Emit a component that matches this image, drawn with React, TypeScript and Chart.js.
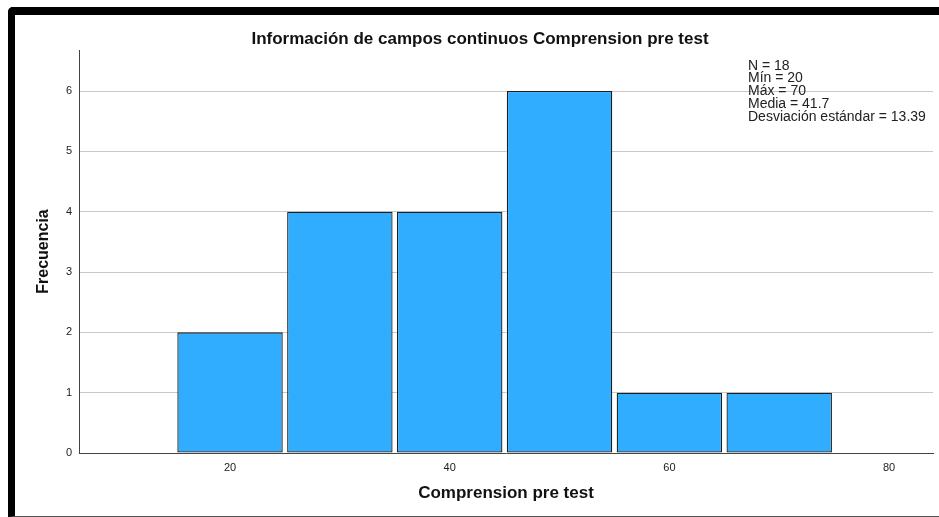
import React, { useEffect, useRef } from "react";
import { Chart, registerables } from "chart.js";

Chart.register(...registerables);

const binCenters = [20, 30, 40, 50, 60, 70];
const frequencies = [2, 4, 4, 6, 1, 1];
const xTickValues = [20, 40, 60, 80];
const yTickValues = [0, 1, 2, 3, 4, 5, 6];
const xRange = [6.25, 84];
const yRange = [0, 6.68];
const chartTitle = "Información de campos continuos Comprension pre test";
const xAxisTitle = "Comprension pre test";
const yAxisTitle = "Frecuencia";
const statsLines = [
  "N = 18",
  "Mín = 20",
  "Máx = 70",
  "Media = 41.7",
  "Desviación estándar = 13.39",
];

const FONT = "'Liberation Sans', Arial, Helvetica, sans-serif";

export default function App() {
  const ref = useRef<HTMLCanvasElement>(null);

  useEffect(() => {
    if (!ref.current) return;
    const textPlugin = {
      id: "textPlugin",
      afterDraw(chart: any) {
        const ctx = chart.ctx;
        ctx.save();
        ctx.fillStyle = "#111";
        ctx.font = `bold 17px ${FONT}`;
        ctx.textAlign = "center";
        ctx.textBaseline = "middle";
        ctx.fillText(chartTitle, 480, 39);
        ctx.font = `14px ${FONT}`;
        ctx.textAlign = "left";
        ctx.textBaseline = "alphabetic";
        ctx.fillStyle = "#222";
        statsLines.forEach((line, i) => ctx.fillText(line, 748, 69.5 + i * 12.9));
        ctx.restore();
      },
    };

    const chart = new Chart(ref.current, {
      type: "bar",
      data: {
        datasets: [
          {
            data: binCenters.map((x, i) => ({ x, y: frequencies[i] })),
            backgroundColor: "#31adff",
            borderColor: "#1e1e1e",
            borderWidth: 1.3,
            borderSkipped: false,
            barPercentage: 0.96,
            categoryPercentage: 1,
          },
        ],
      },
      options: {
        responsive: false,
        animation: false,
        layout: { padding: { top: 50, right: 6, left: 0, bottom: 0 } },
        plugins: {
          legend: { display: false },
          tooltip: { enabled: false },
          title: { display: false },
        },
        scales: {
          x: {
            type: "linear",
            min: xRange[0],
            max: xRange[1],
            offset: false,
            afterBuildTicks: (s: any) => {
              s.ticks = xTickValues.map((v) => ({ value: v }));
            },
            afterFit: (s: any) => {
              s.height = 64;
            },
            grid: { display: false, drawTicks: false, offset: false },
            border: { display: true, color: "#444", width: 1 },
            ticks: {
              padding: 8,
              color: "#222",
              font: { family: FONT, size: 11 },
              maxRotation: 0,
              autoSkip: false,
            },
            title: {
              display: true,
              text: xAxisTitle,
              color: "#111",
              font: { family: FONT, size: 17, weight: "bold" },
              padding: { top: 0, bottom: 13 },
            },
          },
          y: {
            type: "linear",
            min: yRange[0],
            max: yRange[1],
            afterBuildTicks: (s: any) => {
              s.ticks = yTickValues.map((v) => ({ value: v }));
            },
            afterFit: (s: any) => {
              s.width = 79;
            },
            grid: {
              drawTicks: false,
              color: (c: any) => (c.tick && c.tick.value === 0 ? "rgba(0,0,0,0)" : "#c8c8c8"),
              lineWidth: 1,
            },
            border: { display: true, color: "#444", width: 1 },
            ticks: {
              padding: 7,
              color: "#222",
              font: { family: FONT, size: 11 },
              autoSkip: false,
            },
            title: {
              display: true,
              text: yAxisTitle,
              color: "#111",
              font: { family: FONT, size: 16, weight: "bold" },
              padding: { top: 34.4, bottom: 0 },
            },
          },
        },
      },
      plugins: [textPlugin],
    } as any);

    return () => chart.destroy();
  }, []);

  return (
    <div
      style={{
        position: "fixed",
        left: 0,
        top: 0,
        width: 939,
        height: 517,
        background: "#fff",
        overflow: "hidden",
      }}
    >
      <canvas
        ref={ref}
        width={939}
        height={517}
        style={{ position: "absolute", left: 0, top: 0, display: "block" }}
      />
      <div
        style={{
          position: "absolute",
          left: 8,
          top: 7,
          width: 931,
          height: 510,
          boxSizing: "border-box",
          borderTop: "8px solid #000",
          borderLeft: "7px solid #000",
          borderBottom: "1px solid #555",
          borderTopLeftRadius: 5,
          pointerEvents: "none",
        }}
      />
    </div>
  );
}
